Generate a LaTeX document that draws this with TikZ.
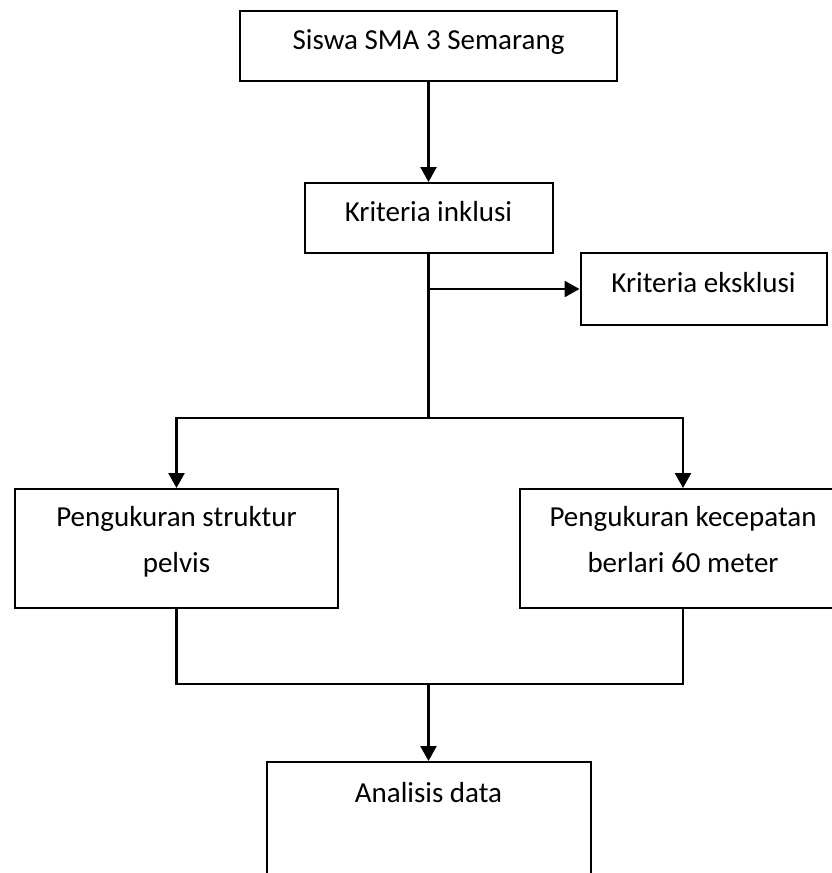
\documentclass[tikz,border=0pt]{standalone}
\usepackage{fontspec}
\setmainfont{Carlito}
\usetikzlibrary{positioning, arrows.meta}
\tikzset{FlowBox/.style={%
    shape=rectangle,%
    draw=black,%
    line width=1pt,%
    minimum height=35pt,%
    inner sep=4pt,%
    text depth=6.5pt,%
    align=center,%
    font=\fontsize{14.5pt}{23pt}\selectfont,%
}}
\tikzset{FlowLine/.style={%
    line width=1.25pt,%
}}
\tikzset{FlowArrow/.style={%
    -{Triangle[length=7.5pt, width=8pt]},%
    line width=1.25pt,%
}}

\begin{document}
\begin{tikzpicture}[x=0.5pt, y=-0.5pt]
    \useasboundingbox (0,0) rectangle (831,873);
    \node[FlowBox, minimum width=188.5pt] (siswa) at (428.5,46) {Siswa SMA 3 Semarang};
    \node[FlowBox, minimum width=124pt, below=50pt of siswa] (inklusi) {Kriteria inklusi};
    \node[FlowBox, minimum width=123pt, minimum height=36pt, right=13pt of inklusi, yshift=-35.5pt] (eksklusi) {Kriteria eksklusi};
    \coordinate[below=82pt of inklusi.south] (split);
    \node[FlowBox, minimum width=161.5pt, minimum height=59.5pt, text depth=9pt] (pelvis) at (176.5,548.5) {Pengukuran struktur\\pelvis};
    \node[FlowBox, minimum width=163pt, minimum height=59.5pt, text depth=9pt, right=90pt of pelvis] (kecepatan) {Pengukuran kecepatan\\berlari 60 meter};
    \coordinate[below=37.5pt of pelvis.south] (joinL);
    \coordinate (join) at (joinL -| split);
    \node[FlowBox, minimum width=162pt, inner ysep=10pt, text depth=40pt, below=38.5pt of join] (analisis) {Analisis data};

    \draw[FlowArrow] (siswa) -- (inklusi);
    \draw[FlowLine] (inklusi.south) -- (split);
    \draw[FlowArrow] (inklusi.south |- eksklusi.west) -- (eksklusi.west);
    \draw[FlowArrow] (split) -| (pelvis.north);
    \draw[FlowArrow] (split) -| (kecepatan.north);
    \draw[FlowLine] (pelvis.south) -- (joinL) -| (kecepatan.south);
    \draw[FlowArrow] (join) -- (analisis);
\end{tikzpicture}
\end{document}
